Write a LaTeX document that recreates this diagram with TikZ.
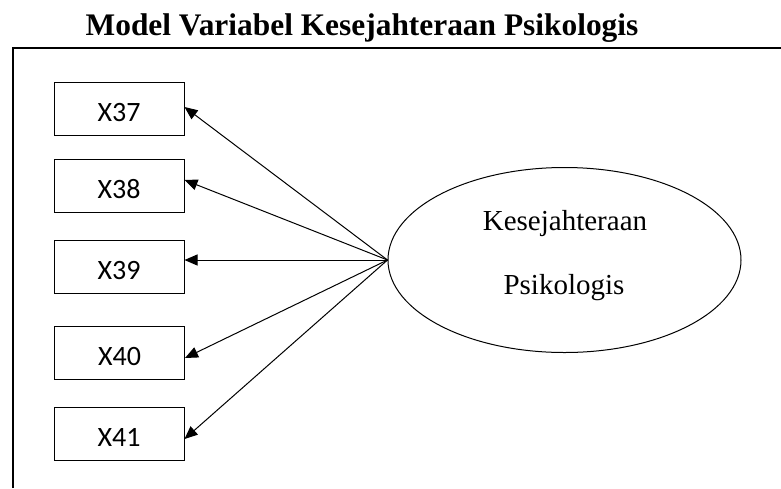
\documentclass[tikz,border=0pt]{standalone}
\usepackage{fontspec}
\setmainfont{Liberation Serif}
\newfontfamily\boxfont{Carlito}
\usetikzlibrary{arrows.meta,shapes.geometric}
\begin{document}
\begin{tikzpicture}[x=1pt,y=-1pt,
  indbox/.style={draw,line width=1pt,minimum width=130pt,minimum height=52.5pt,inner sep=0pt,
    font=\boxfont\fontsize{28}{30}\selectfont,text height=24pt,text depth=0pt},
  latent/.style={draw,ellipse,line width=1pt,minimum width=353pt,minimum height=185pt,inner sep=0pt},
  ltext/.style={anchor=base,inner sep=0pt,font=\fontsize{29}{32}\selectfont},
  link/.style={line width=1pt,-{Triangle[length=13pt,width=11pt]}}]
\useasboundingbox (0,0) rectangle (781,488);
\node[anchor=base,inner sep=0pt,font=\fontsize{31.4}{34}\selectfont\bfseries] (title) at (362,35)
  {Model Variabel Kesejahteraan Psikologis};
\coordinate (fl) at (13,488);
\coordinate (ftl) at (13,48);
\coordinate (fr) at (782,48);
\draw[line width=1.5pt] (fl) -- (ftl) -- (fr);
\node[indbox] (x37) at (119,109) {X37};
\node[indbox] (x38) at (119,186) {X38};
\node[indbox] (x39) at (119,267) {X39};
\node[indbox] (x40) at (119.5,353) {X40};
\node[indbox] (x41) at (119,434) {X41};
\node[latent] (kp) at (564.5,260) {};
\node[ltext] (kp1) at (565,230) {Kesejahteraan};
\node[ltext] (kp2) at (564,294) {Psikologis};
\draw[link] (kp.west) -- ([yshift=2pt]x37.east);
\draw[link] (kp.west) -- ([yshift=6pt]x38.east);
\draw[link] (kp.west) -- (x39.east |- kp.west);
\draw[link] (kp.west) -- ([yshift=-5pt]x40.east);
\draw[link] (kp.west) -- ([yshift=-5pt]x41.east);
\end{tikzpicture}
\end{document}
